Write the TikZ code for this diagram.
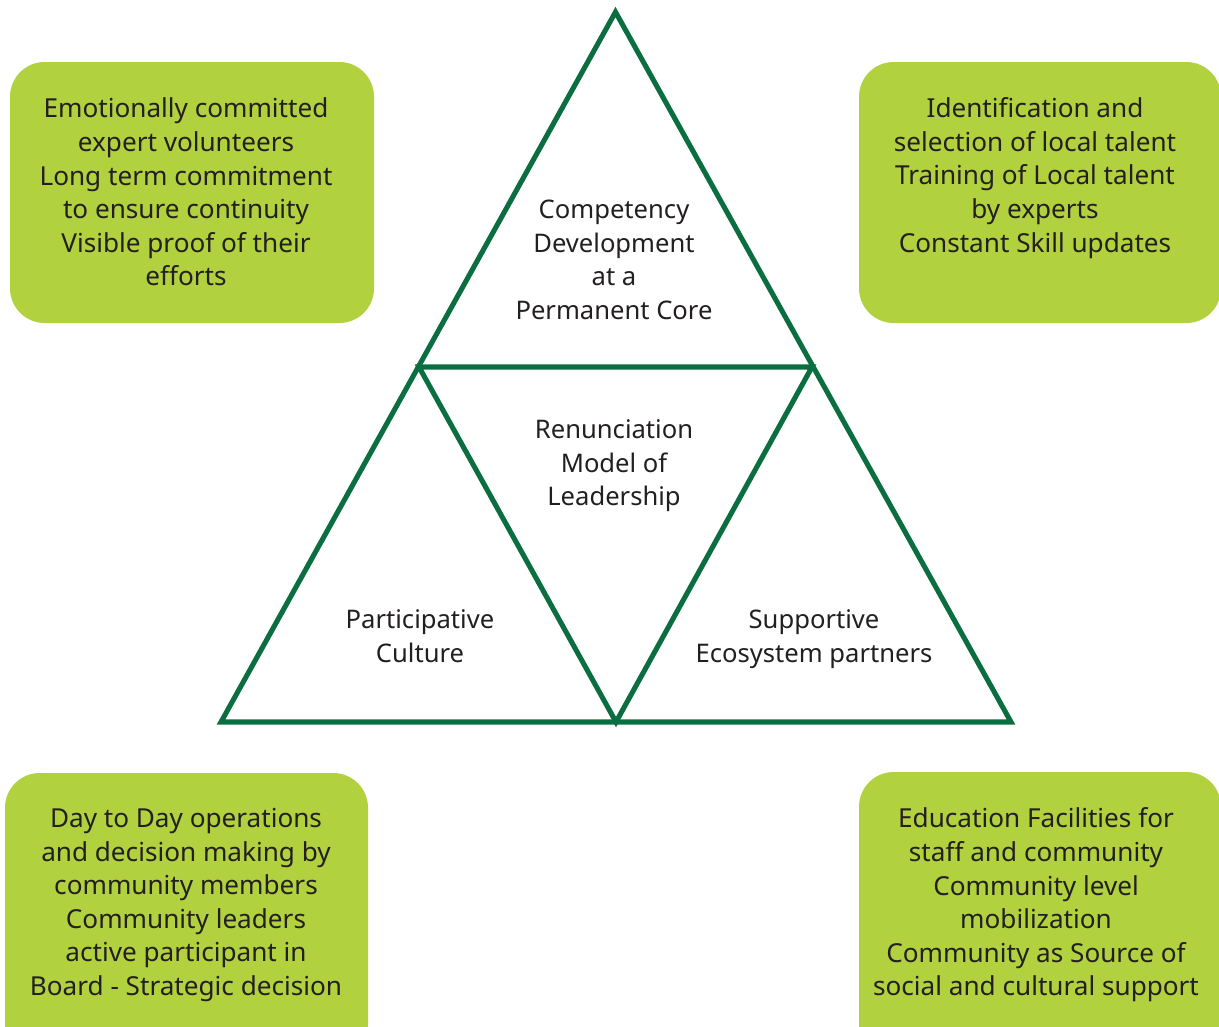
\documentclass[tikz,border=0pt]{standalone}
\usepackage{fontspec}
\setmainfont{Noto Sans}
\definecolor{boxgreen}{HTML}{B2D13E}
\definecolor{linegreen}{HTML}{0B6E41}
\definecolor{ink}{HTML}{231F20}
\begin{document}
\begin{tikzpicture}[x=0.75pt,y=-0.75pt,
  card/.style={fill=boxgreen,rounded corners=26pt,inner sep=0pt},
  cardtext/.style={align=center,text=ink,font=\fontsize{19.6}{25.2}\selectfont,inner sep=0pt},
  tritext/.style={align=center,text=ink,font=\fontsize{19.2}{25.2}\selectfont,inner sep=0pt},
  edge/.style={draw=linegreen,line width=3.8pt,line join=miter}]
\useasboundingbox (0,0) rectangle (1219,1026);
\clip (0,0) rectangle (1219,1026);
\fill[white] (0,0) rectangle (1219,1026);

% corner cards
\path[card] (10,62) rectangle (374,323);
\path[card] (859,62) rectangle (1221,323);
\path[card] (5,773) rectangle (368,1060);
\path[card] (859,772) rectangle (1221,1060);

\node[cardtext] (tl) at (186,192) {Emotionally committed\\expert volunteers\\Long term commitment\\to ensure continuity\\Visible proof of their\\efforts};
\node[cardtext] (tr) at (1035,178) {Identification and\\selection of local talent\\Training of Local talent\\by experts\\Constant Skill updates};
\node[cardtext] (bl) at (186,905) {Day to Day operations\\and decision making by\\community members\\Community leaders\\active participant in\\Board - Strategic decision};
\node[cardtext] (br) at (1036,905) {Education Facilities for\\staff and community\\Community level\\mobilization\\Community as Source of\\social and cultural support};

% triangle corners and side midpoints
\coordinate (A) at (615.5,12);
\coordinate (B) at (221,722);
\coordinate (C) at (1011,722);
\coordinate (AB) at (419,367);
\coordinate (AC) at (812,367);
\coordinate (BC) at (616,722);

\draw[edge] (A) -- (B) -- (C) -- cycle;
\draw[edge] (AB) -- (AC) -- (BC) -- cycle;

\node[tritext] (top) at (614,260) {Competency\\Development\\at a\\Permanent Core};
\node[tritext] (mid) at (614,466) {Renunciation\\Model of\\Leadership};
\node[tritext] (left) at (420,636) {Participative\\Culture};
\node[tritext] (right) at (814,639) {Supportive\\Ecosystem partners};
\end{tikzpicture}
\end{document}
